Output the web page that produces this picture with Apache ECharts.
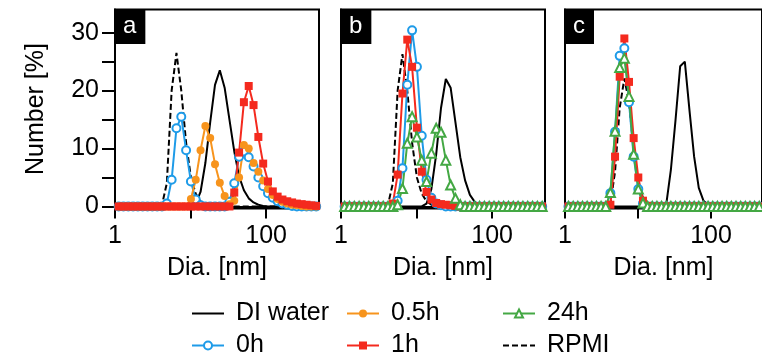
<!DOCTYPE html>
<html><head><meta charset="utf-8">
<script src="https://cdn.jsdelivr.net/npm/echarts@6/dist/echarts.min.js"></script>
<style>html,body{margin:0;padding:0;background:#fff}#c{width:762px;height:364px}</style>
</head><body><div id="c"></div>
<script>
// DLS size bins (nm)
const sizes = [0.9649,1.117,1.294,1.499,1.736,2.010,2.328,2.696,3.122,3.615,
  4.187,4.849,5.615,6.503,7.531,8.721,10.10,11.70,13.54,15.69,
  18.17,21.04,24.36,28.21,32.67,37.84,43.82,50.75,58.77,68.06,
  78.82,91.28,105.7,122.4,141.8,164.2,190.1,220.2,255.0,295.3,
  342.0,396.1,458.7];

const panelLabels = ['a','b','c'];
const yTickValues = [0,5,10,15,20,25,30];
const yLabelValues = [0,10,20,30];
const xTickValues = [1,10,100];
const xLabelValues = [1,100];

// Panel a
const diA = [0,0,0,0,0,0,0,0,0,0, 0,0,0,0,0,0,0,0.5,2.5,7.5, 14.5,21,23.5,20.5,15,9.5,5.2,2.8,1.4,0.7, 0.3,0.1,0,0,0,0,0,0,0,0, 0,0,0];
const rpmiA = [0,0,0,0,0,0,0,0,0,0, 0.3,4,20,26.5,20,11,5,2.2,0.9,0.3, 0.1,0,0,0,0,0,0,0,0,0, 0,0,0,0,0,0,0,0,0,0, 0,0,0];
const h0A = [0,0,0,0,0,0,0,0,0,0, 0,0.5,4.6,13.5,15.5,9.7,4.3,1.2,0.2,0, 0,0,0,0,0.8,4,8.6,9.5,8.5,6.9, 5,3.5,2.3,1.5,0.9,0.5,0.3,0.1,0,0, 0,0,0];
const h05A = [0,0,0,0,0,0,0,0,0,0, 0,0,0,0,0,0,1.3,4.6,9.7,13.9, 11.8,7.3,4.1,1.8,0.4,1.0,5,10.6,10,7.5, 6,4.5,3,2,1.3,0.8,0.5,0.3,0.2,0.1, 0,0,0];
const h1A = [0,0,0,0,0,0,0,0,0,0, 0,0,0,0,0,0,0,0,0,0, 0,0,0,0,0,2.4,9.3,18,20.8,17.5, 12,7.4,4.3,2.6,1.7,1.2,0.9,0.7,0.5,0.4, 0.3,0.2,0.1];

// Panel b
const diB = [0,0,0,0,0,0,0,0,0,0, 0,0,0,0,0,0,0,0,0.5,3, 9,17,22,20.5,14.5,8.5,4.5,2,0.8,0.3, 0,0,0,0,0,0,0,0,0,0, 0,0,0];
const rpmiB = [0,0,0,0,0,0,0,0,0,0, 0.3,4,20,26.3,20,11,5,2.2,0.9,0.3, 0.1,0,0,0,0,0,0,0,0,0, 0,0,0,0,0,0,0,0,0,0, 0,0,0];
const h0B = [0,0,0,0,0,0,0,0,0,0, 0,0,1,6.6,21,30.4,24.1,12.2,4.6,1.5, 0.5,0.2,0,0,0,0,0,0,0,0, 0,0,0,0,0,0,0,0,0,0, 0,0,0];
const h1B = [0,0,0,0,0,0,0,0,0,0, 0,0.5,5.5,19.5,28.8,24.1,13.6,6,2.5,1.2, 0.6,0.4,0.3,0.2,0.1,0,0,0,0,0, 0,0,0,0,0,0,0,0,0,0, 0,0,0];
const h24B = [0,0,0,0,0,0,0,0,0,0, 0,0,0.3,3.1,10.9,15.5,12,8,4.3,9.2, 13.5,12.8,8,3.7,1.4,0.3,0,0,0,0, 0,0,0,0,0,0,0,0,0,0, 0,0,0];

// Panel c
const diC = [0,0,0,0,0,0,0,0,0,0, 0,0,0,0,0,0,0,0,0,0, 0,0,0.3,6.3,14.9,24.2,25,16.6,8.6,3.2, 1,0.3,0,0,0,0,0,0,0,0, 0,0,0];
const rpmiC = [0,0,0,0,0,0,0,0,0,0, 0.5,6,17,22.1,18,10,4,1.5,0.5,0.2, 0,0,0,0,0,0,0,0,0,0, 0,0,0,0,0,0,0,0,0,0, 0,0,0];
const h0C = [0,0,0,0,0,0,0,0,0,0, 2.3,12.9,26,27.3,18,8.6,3,0.5,0,0, 0,0,0,0,0,0,0,0,0,0, 0,0,0,0,0,0,0,0,0,0, 0,0,0];
const h1C = [0,0,0,0,0,0,0,0,0,0, 0.3,8.6,22.4,29,21.5,11.8,5,1,0.1,0, 0,0,0,0,0,0,0,0,0,0, 0,0,0,0,0,0,0,0,0,0, 0,0,0];
const h24C = [0,0,0,0,0,0,0,0,0,0, 2.4,13,24,25.6,19,9,3,0.6,0,0, 0,0,0,0,0,0,0,0,0,0, 0,0,0,0,0,0,0,0,0,0, 0,0,0];

const FONT = 'Liberation Sans, Arial, Helvetica, sans-serif';
const FS = 25;
const C = {blue:'#1E9BE8', orange:'#F7941D', red:'#F42A1E', green:'#44A844', black:'#000'};

const styles = {
  'DI water': {color:C.black, symbol:'none', dash:'solid'},
  'RPMI': {color:C.black, symbol:'none', dash:[6,3]},
  '0h': {color:C.blue, symbol:'emptyCircle', size:8},
  '0.5h': {color:C.orange, symbol:'circle', size:8},
  '1h': {color:C.red, symbol:'rect', size:8},
  '24h': {color:C.green, symbol:'emptyTriangle', size:9}
};

const panels = [
  [['DI water',diA],['RPMI',rpmiA],['0h',h0A],['0.5h',h05A],['1h',h1A]],
  [['DI water',diB],['RPMI',rpmiB],['0h',h0B],['1h',h1B],['24h',h24B]],
  [['DI water',diC],['RPMI',rpmiC],['0h',h0C],['1h',h1C],['24h',h24C]]
];

const gridLefts = [115, 341, 565];
const grids = [], xAxes = [], yAxes = [], series = [], titles = [];
panels.forEach((list, i) => {
  grids.push({left: gridLefts[i], top: 9.5, width: 204, height: 199, show: true,
    borderColor: '#000', borderWidth: 2, backgroundColor: 'transparent'});
  xAxes.push({type:'log', logBase:10, gridIndex:i, min:1, max:500,
    name:'Dia. [nm]', nameLocation:'middle', nameGap:47,
    nameTextStyle:{fontSize:FS, color:'#000', fontFamily:FONT},
    axisLine:{show:true, lineStyle:{color:'#000', width:2}},
    axisTick:{show:true, length:12, inside:false, lineStyle:{color:'#000', width:2}, customValues: xTickValues},
    axisLabel:{show:true, fontSize:FS, color:'#000', fontFamily:FONT, margin:15, customValues: xLabelValues,
      formatter: v => String(Math.round(v))},
    splitLine:{show:false}, minorTick:{show:false}});
  yAxes.push({type:'value', gridIndex:i, min:-0.35, max:34,
    name: i===0 ? 'Number [%]' : '', nameLocation:'middle', nameGap:66,
    nameTextStyle:{fontSize:FS, color:'#000', fontFamily:FONT},
    axisLine:{show:true, lineStyle:{color:'#000', width:2}},
    axisTick:{show:i===0, length:13, lineStyle:{color:'#000', width:2}, customValues: yTickValues},
    axisLabel:{show:i===0, fontSize:FS, color:'#000', fontFamily:FONT, margin:16, customValues: yLabelValues},
    splitLine:{show:false}});
  titles.push({text: panelLabels[i], left: gridLefts[i], top: 9,
    backgroundColor:'#000', padding:[5,9,6,8],
    textStyle:{color:'#fff', fontSize:24, fontWeight:'normal', fontFamily:FONT, lineHeight:24}});
  list.forEach(([name, vals]) => {
    const st = styles[name];
    series.push({type:'line', name, xAxisIndex:i, yAxisIndex:i,
      data: sizes.map((s, j) => [s, vals[j]]),
      symbol: st.symbol, symbolSize: st.size || 0, showSymbol: st.symbol !== 'none',
      clip: true,
      lineStyle:{color:st.color, width:2, type: st.dash || 'solid'},
      itemStyle:{color:st.color, borderColor:st.color, borderWidth: (st.symbol||'').startsWith('empty') ? 2 : 0},
      z: name==='DI water'||name==='RPMI' ? 2 : 3});
  });
});

const legendPos = [['DI water',191,301],['0.5h',346,301],['24h',502,301],['0h',191,333],['1h',346,333],['RPMI',502,333]];
const legends = legendPos.map(([n,l,t]) => {
  const noSym = styles[n].symbol === 'none';
  return {data:[noSym ? {name:n, itemStyle:{opacity:0}} : n], left:l, top:t, padding:0, itemWidth:32, itemHeight:10,
    selectedMode:false, textStyle:{fontSize:FS, color:'#000', fontFamily:FONT, padding:[0,0,0,7]}};
});

const chart = echarts.init(document.getElementById('c'), null, {renderer:'canvas'});
chart.setOption({animation:false, backgroundColor:'#fff', title:titles, legend:legends,
  grid:grids, xAxis:xAxes, yAxis:yAxes, series});
</script></body></html>
